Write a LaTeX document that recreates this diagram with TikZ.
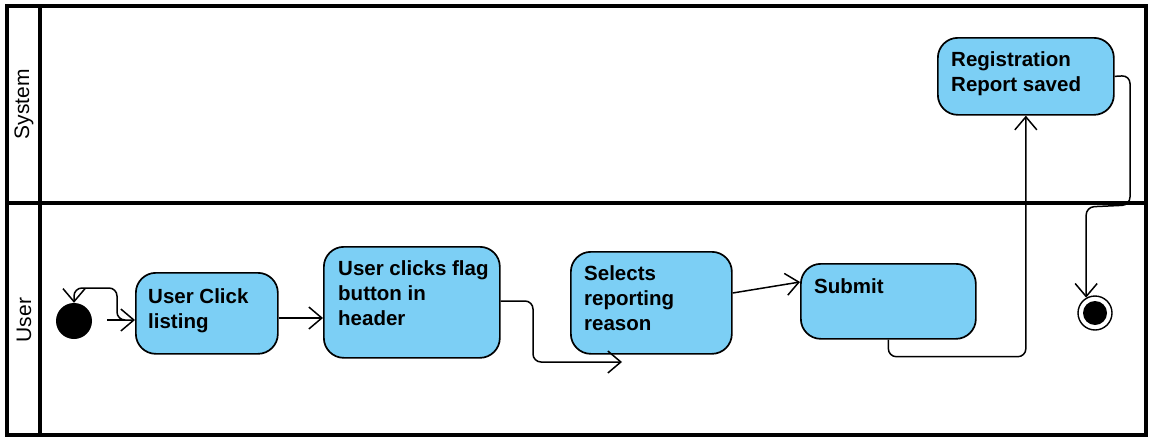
\documentclass[tikz,border=0pt]{standalone}
\usepackage{fontspec}
\setmainfont{Liberation Sans}
\usetikzlibrary{arrows.meta,calc}
\definecolor{boxblue}{HTML}{7CCFF5}
\tikzset{
  box/.style={draw=black, line width=1.7pt, fill=boxblue, rounded corners=20pt, inner sep=0pt, anchor=north west},
  txt/.style={inner sep=0pt, anchor=north west, align=left, font=\fontsize{20.5}{25}\selectfont\bfseries},
  lane/.style={line width=3.2pt, draw=black},
  lanelabel/.style={rotate=90, font=\fontsize{21}{25}\selectfont},
  conn/.style={line width=1.5pt, rounded corners=8pt, -{Straight Barb[length=13pt,width=22pt]}},
}
\begin{document}
\begin{tikzpicture}[x=1pt,y=-1pt]
\useasboundingbox (0,0) rectangle (1159,447);
% swimlanes
\draw[lane] (7,6) rectangle (1146,435);
\draw[lane] (40,6) -- (40,435);
\draw[lane] (7,203) -- (1146,203);
\node[lanelabel] (lsys) at (24,104) {System};
\node[lanelabel] (luser) at (24,320) {User};
% nodes
\node[circle, fill=black, minimum size=36pt, inner sep=0pt] (init) at (74,321) {};
\node[box, minimum width=142pt, minimum height=81pt] (b1) at (135,272) {};
\node[txt] (t1) at (148,288) {User Click\\listing};
\node[box, minimum width=176pt, minimum height=111pt] (b2) at (323,246) {};
\node[txt] (t2) at (338,260) {User clicks flag\\button in\\header};
\node[box, minimum width=161pt, minimum height=102pt] (b3) at (570,251) {};
\node[txt] (t3) at (584,265) {Selects\\reporting\\reason};
\node[box, minimum width=175pt, minimum height=75pt] (b4) at (800,263) {};
\node[txt] (t4) at (814,278) {Submit};
\node[box, minimum width=176pt, minimum height=77pt] (reg) at (937,37) {};
\node[txt] (t5) at (951,51) {Registration\\Report saved};
\node[circle, draw=black, line width=1.4pt, minimum size=34pt, inner sep=0pt,
  path picture={\fill[black] (path picture bounding box.center) circle (12pt);}] (fin) at (1095,313) {};
% helper coordinates
\coordinate (y1) at (0,320);
\coordinate (y2) at (0,318);
\coordinate (y3) at (0,301);
\coordinate (e3) at (622,362);
\coordinate (y4a) at (0,293);
\coordinate (y4b) at (0,282);
\coordinate (y6) at (0,207);
% connectors
\draw[conn, {Straight Barb[length=13pt,width=22pt]}-{Straight Barb[length=13pt,width=22pt]}]
  (init.north) -- (74,288) -- (117,288) -- (117,320) -- (b1.west |- y1);
\draw[line width=1.5pt] (107,320) -- (125,320);
\draw[conn] (b1.east |- y2) -- (b2.west |- y2);
\draw[conn] (b2.east |- y3) -- (533,301) -- (533,362) -- (e3);
\draw[conn] (b3.east |- y4a) -- (b4.west |- y4b);
\draw[conn] (b4.south) -- ++(0,17) -| (reg.south);
\draw[conn] (reg.east) -- (1130,75.5) -- (1130,205) -- (fin.120 |- y6) -- (fin.120);
\end{tikzpicture}
\end{document}
